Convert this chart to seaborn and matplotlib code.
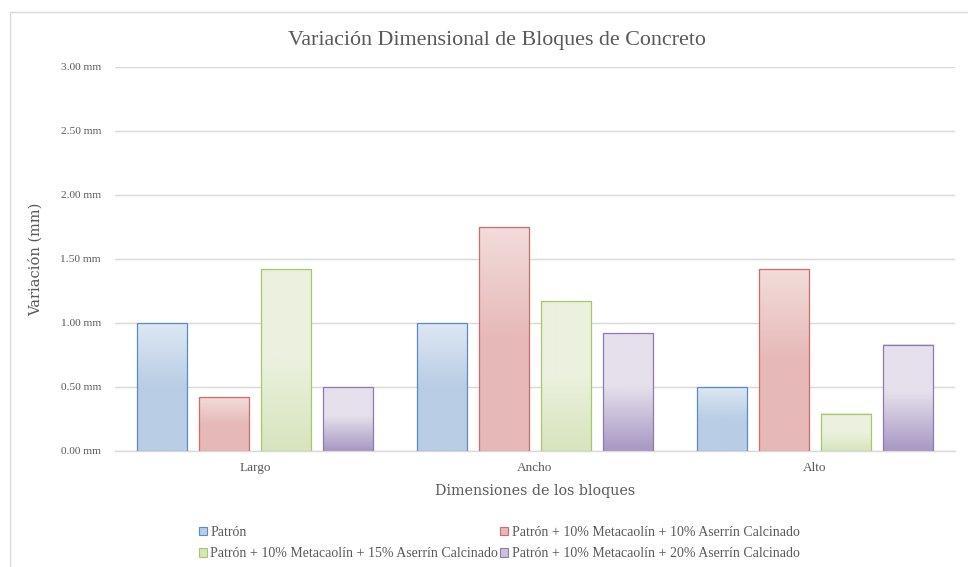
import numpy as np
import pandas as pd
import matplotlib
matplotlib.use("Agg")
import matplotlib.pyplot as plt
import seaborn as sns
from matplotlib.colors import to_rgb
from matplotlib.patches import Rectangle, Patch
from matplotlib.ticker import FuncFormatter, MultipleLocator

# ---------------- data ----------------
categories = ["Largo", "Ancho", "Alto"]
series_names = [
    "Patrón",
    "Patrón + 10% Metacaolín + 10% Aserrín Calcinado",
    "Patrón + 10% Metacaolín + 15% Aserrín Calcinado",
    "Patrón + 10% Metacaolín + 20% Aserrín Calcinado",
]
patron = [1.00, 1.00, 0.50]
mix_10 = [0.42, 1.75, 1.42]
mix_15 = [1.42, 1.17, 0.29]
mix_20 = [0.50, 0.92, 0.83]
title = "Variación Dimensional de Bloques de Concreto"
xlabel = "Dimensiones de los bloques"
ylabel = "Variación (mm)"

values = [patron, mix_10, mix_15, mix_20]
df = pd.DataFrame(
    [(c, s, v) for s, vals in zip(series_names, values) for c, v in zip(categories, vals)],
    columns=["dim", "serie", "val"],
)

# ---------------- styles ----------------
edge_colors = ["#5a8bc8", "#d06a68", "#a8c66c", "#9079b2"]
# gradient stops: (fraction from top, color)
gradients = [
    [(0.0, "#dde7f2"), (0.5, "#b9cde5"), (1.0, "#b9cde5")],
    [(0.0, "#f2dcdb"), (0.5, "#e6b9b8"), (1.0, "#e6b9b8")],
    [(0.0, "#ebf1de"), (0.5, "#ebf1de"), (1.0, "#d7e4bd")],
    [(0.0, "#e5e0ec"), (0.45, "#e5e0ec"), (1.0, "#a797c3")],
]
legend_fill = ["#b9cde5", "#e6b9b8", "#d7e4bd", "#ccc1da"]
text_color = "#595959"
grid_color = "#d9d9d9"

sns.set_theme(style="white")
plt.rcParams["font.family"] = ["Liberation Serif", "DejaVu Serif"]

fig = plt.figure(figsize=(9.68, 5.67), dpi=100)
ax = fig.add_axes([115 / 968, 1 - 451 / 567, 840 / 968, 384 / 567])

sns.barplot(
    data=df, x="dim", y="val", hue="serie", hue_order=series_names,
    order=categories, palette=edge_colors, width=0.886, gap=0.19,
    ax=ax, legend=False, errorbar=None, saturation=1,
)

def grad_img(stops, n=200):
    fr = np.array([s[0] for s in stops])
    cols = np.array([to_rgb(s[1]) for s in stops])
    t = np.linspace(0, 1, n)
    img = np.stack([np.interp(t, fr, cols[:, k]) for k in range(3)], axis=-1)
    return img[:, None, :]

for i, cont in enumerate(ax.containers):
    img = grad_img(gradients[i])
    for bar in cont:
        x0 = bar.get_x()
        w = bar.get_width()
        y0 = bar.get_y()
        h = bar.get_height()
        ax.imshow(img, extent=(x0, x0 + w, y0, y0 + h), aspect="auto",
                  origin="upper", zorder=2, interpolation="bilinear")
        bar.set_facecolor("none")
        bar.set_edgecolor(edge_colors[i])
        bar.set_linewidth(0.9)
        bar.set_zorder(3)

ax.set_xlim(-0.5, 2.5)
ax.set_ylim(0, 3.0)
ax.yaxis.set_major_locator(MultipleLocator(0.5))
ax.yaxis.set_major_formatter(FuncFormatter(lambda v, p: f"{v:.2f} mm"))
ax.grid(axis="y", color=grid_color, linewidth=1.0)
ax.set_axisbelow(True)
for s in ["top", "right", "left"]:
    ax.spines[s].set_visible(False)
ax.spines["bottom"].set_color(grid_color)
ax.spines["bottom"].set_linewidth(1.0)
ax.tick_params(axis="y", length=0, pad=10, labelsize=8.2, labelcolor=text_color)
ax.tick_params(axis="x", length=0, pad=8, labelsize=9.5, labelcolor=text_color)

ax.set_xlabel(xlabel, fontsize=10.3, color=text_color, labelpad=7,
              family=["DejaVu Serif"])
ax.set_ylabel(ylabel, fontsize=10.5, color=text_color,
              family=["DejaVu Serif"])
ax.yaxis.set_label_coords(-72 / 840, 0.5)

fig.text(497 / 968, 1 - 40 / 567, title, ha="center", va="center",
         fontsize=15.8, color=text_color)

order = [0, 2, 1, 3]
handles = [Patch(facecolor=legend_fill[i], edgecolor=edge_colors[i], linewidth=0.8,
                 label=series_names[i]) for i in order]
fig.legend(handles=handles, loc="center", bbox_to_anchor=(499 / 968, 1 - 543 / 567),
           ncol=2, frameon=False, fontsize=10, handlelength=0.6, handleheight=0.6,
           handletextpad=0.25, columnspacing=0.1, labelspacing=0.6,
           labelcolor=text_color)

# outer chart border
fig.patches.append(Rectangle((10 / 968, -0.05), 1.1, 1 - 12 / 567 + 0.05,
                             transform=fig.transFigure, fill=False,
                             edgecolor="#d9d9d9", linewidth=1.0))

fig.savefig("out.png", dpi=100)
